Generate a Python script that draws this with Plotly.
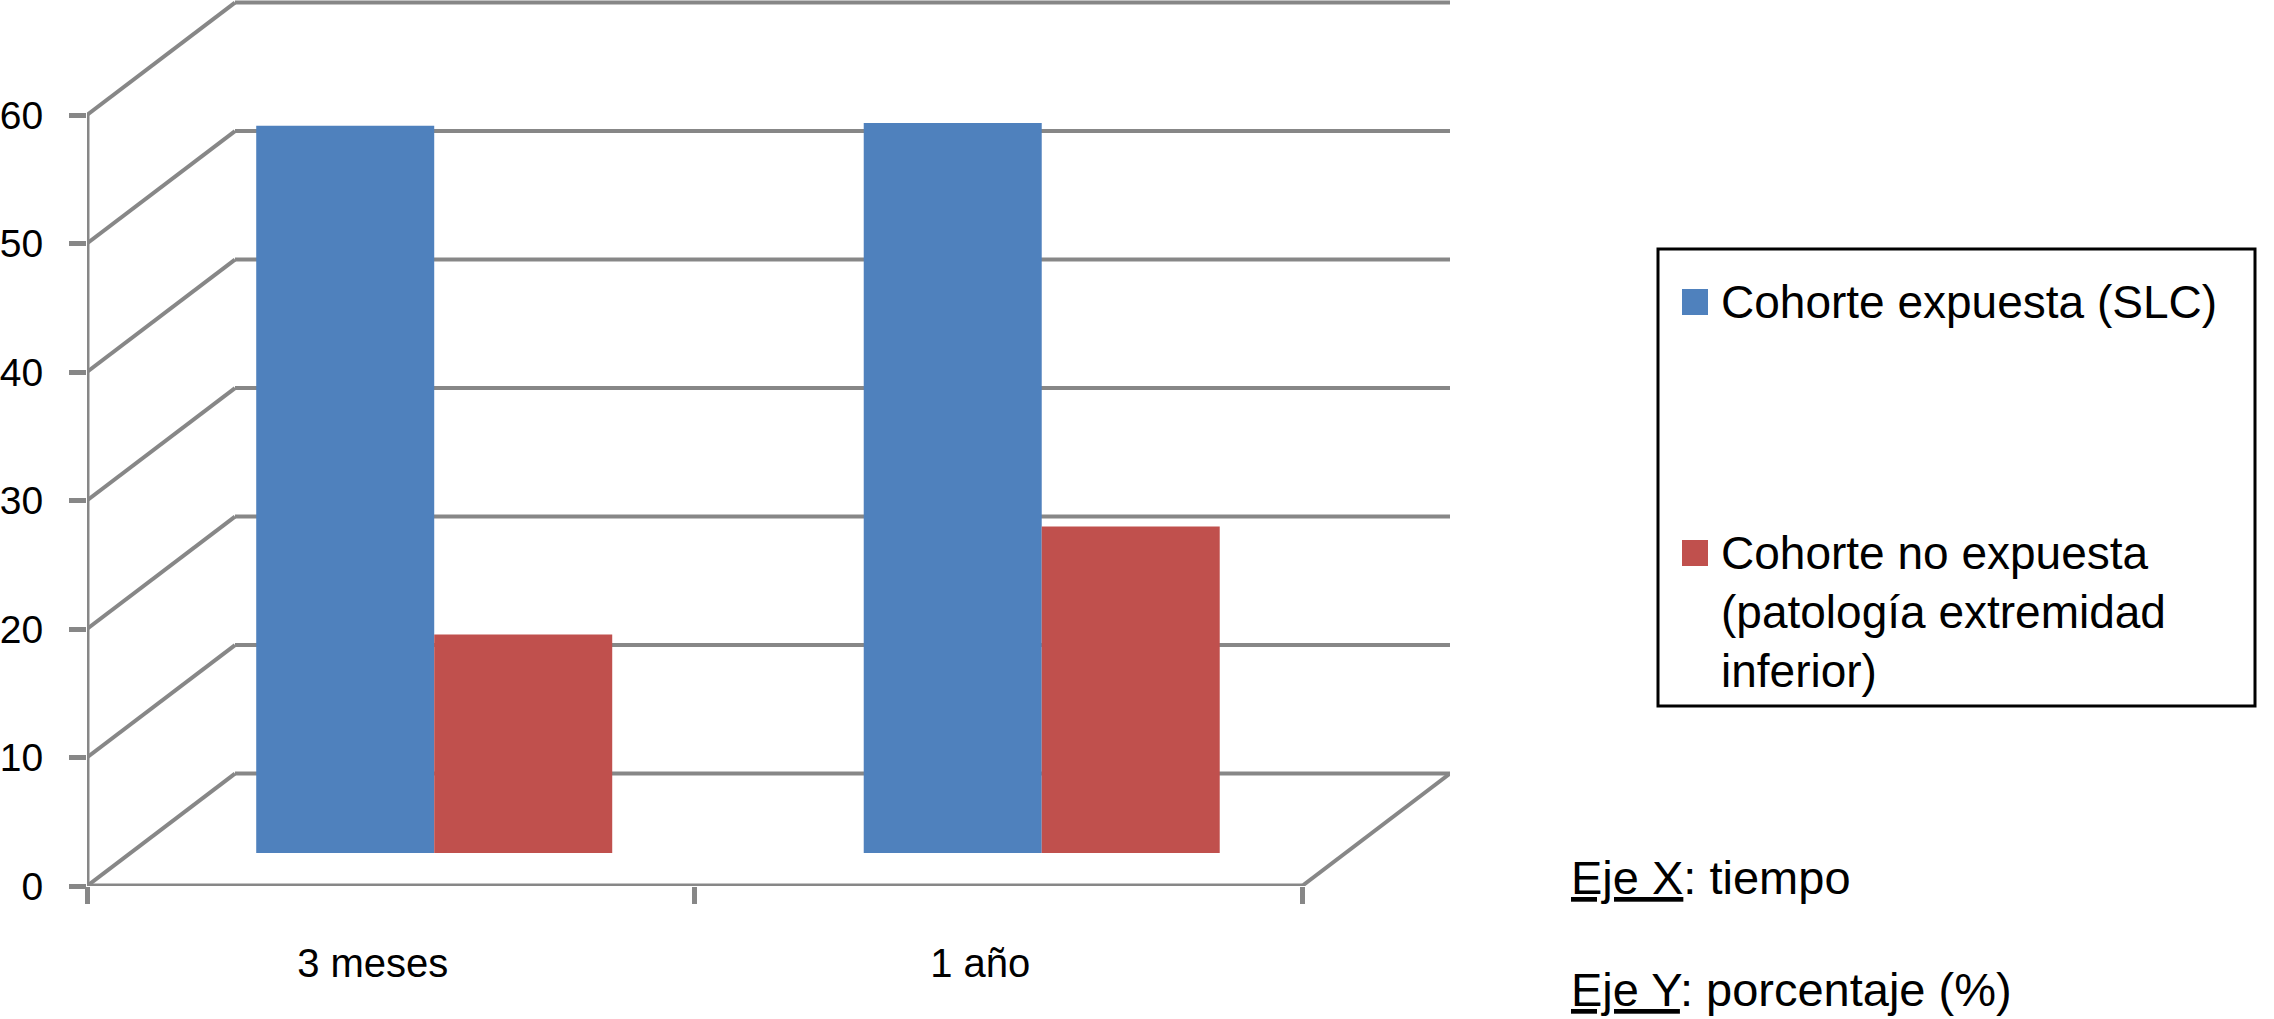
import plotly.graph_objects as go

categorias = ["3 meses", "1 año"]
series = ["Cohorte expuesta (SLC)", "Cohorte no expuesta\n(patología extremidad\ninferior)"]
expuesta = [56.6, 56.8]
no_expuesta = [17.0, 25.4]
y_ticks = [0, 10, 20, 30, 40, 50, 60]
notas = ["<u>Eje X</u>: tiempo", "<u>Eje Y</u>: porcentaje (%)"]

BLUE = "#4F81BD"
RED = "#C0504D"
GRIS = "#878787"
FONT = "Liberation Sans, Arial, Helvetica, sans-serif"

W, H = 2274, 1019
L, R, T, B = 87, 824, 0, 133
PW = W - L - R
PH = H - T - B
PX_UNIDAD = 12.85  # px por punto porcentual en el eje frontal

# falso 3D al estilo Excel: desplazamiento de la pared del fondo
DX = 0.2436   # en categorias
DY = 8.75     # en porcentaje
BASE = 2.57   # altura del suelo donde apoyan las barras
SHIFT = BASE / DY * DX
ANCHO = 0.293


def px_x(p):
    return (p - L) / PW


def px_y(p):
    return (T + PH - p) / PH


fig = go.Figure()
for nombre, vals, color, off in [
    (series[0], expuesta, BLUE, SHIFT - ANCHO),
    (series[1], no_expuesta, RED, SHIFT),
]:
    fig.add_trace(go.Bar(
        x=categorias, y=vals, base=BASE, width=ANCHO, offset=off,
        marker_color=color, marker_line_width=0,
        name=nombre.replace("\n", " "), showlegend=False,
    ))

shapes = []


def seg(x0, y0, x1, y1, w=4):
    shapes.append(dict(type="line", xref="x", yref="y", x0=x0, y0=y0, x1=x1, y1=y1,
                       line=dict(color=GRIS, width=w), layer="below"))


x_ini, x_fin = -0.5, len(categorias) - 0.5
for v in y_ticks:
    seg(x_ini, v, x_ini + DX, v + DY)
    seg(x_ini + DX, v + DY, x_fin + DX, v + DY)
seg(x_fin, 0, x_fin + DX, DY)
seg(x_ini, 0, x_fin, 0, 5)
seg(x_ini, 0, x_ini, y_ticks[-1], 5)

# leyenda dibujada a mano (caja, muestras de color y texto)
shapes.append(dict(type="rect", xref="paper", yref="paper",
                   x0=px_x(1658), x1=px_x(2255), y0=px_y(706), y1=px_y(249),
                   line=dict(color="black", width=3)))
annotations = []
for i, (nombre, color, centro) in enumerate(zip(series, [BLUE, RED], [302, 553])):
    shapes.append(dict(type="rect", xref="paper", yref="paper",
                       x0=px_x(1682), x1=px_x(1708), y0=px_y(centro + 13), y1=px_y(centro - 13),
                       fillcolor=color, line=dict(width=0)))
    for j, linea in enumerate(nombre.split("\n")):
        annotations.append(dict(
            text=linea, xref="paper", yref="paper", x=px_x(1719),
            y=px_y(centro + j * 59),
            xanchor="left", yanchor="middle", showarrow=False,
            font=dict(size=46, color="black", family=FONT),
        ))

for nota, centro in zip(notas, [877, 989]):
    annotations.append(dict(
        text=nota, xref="paper", yref="paper", x=px_x(1569), y=px_y(centro),
        xanchor="left", yanchor="middle", showarrow=False,
        font=dict(size=47, color="black", family=FONT),
    ))

fig.update_layout(
    width=W, height=H,
    margin=dict(l=L, r=R, t=T, b=B, autoexpand=False),
    plot_bgcolor="white", paper_bgcolor="white",
    barmode="overlay",
    font=dict(family=FONT, color="black", size=40),
    shapes=shapes, annotations=annotations,
    xaxis=dict(
        type="category", range=[x_ini, x_fin + DX],
        showline=False, showgrid=False, zeroline=False,
        ticks="outside", tickson="boundaries", ticklen=17, tickwidth=5, tickcolor=GRIS,
        tickfont=dict(size=40), ticklabelshift=-18, ticklabelstandoff=50,
    ),
    yaxis=dict(
        range=[0, PH / PX_UNIDAD], tickvals=y_ticks,
        showline=False, showgrid=False, zeroline=False,
        ticks="outside", ticklen=17, tickwidth=5, tickcolor=GRIS,
        tickfont=dict(size=39), ticklabelstandoff=18,
    ),
)

fig.write_html("out.html", config={"displayModeBar": False},
               post_script="document.body.style.margin='0';")
